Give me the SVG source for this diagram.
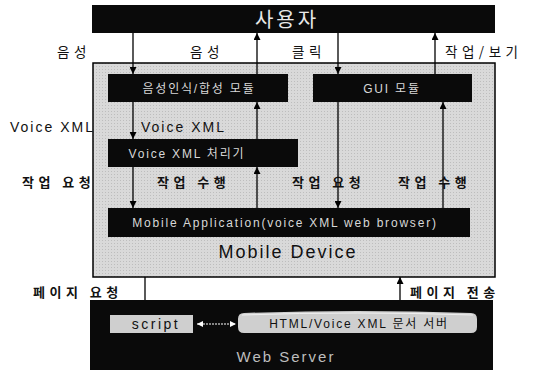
<svg xmlns="http://www.w3.org/2000/svg" width="533" height="370" viewBox="0 0 533 370">
<defs>
<marker id="ah" viewBox="0 0 10 10" refX="10" refY="5" markerWidth="7" markerHeight="7" orient="auto" markerUnits="userSpaceOnUse"><path d="M0,0 L10,5 L0,10 z" fill="#000"/></marker>
<marker id="ah2" viewBox="0 0 10 10" refX="10" refY="5" markerWidth="6" markerHeight="6" orient="auto-start-reverse" markerUnits="userSpaceOnUse"><path d="M0,0 L10,5 L0,10 z" fill="#fff"/></marker>
<pattern id="dots" width="3" height="3" patternUnits="userSpaceOnUse"><rect width="3" height="3" fill="#d9d9d9"/><rect width="1" height="1" fill="#bdbdbd"/></pattern>
</defs>
<style>
.blk{fill:#0a0a0a}
.lbl{font-family:"Noto Sans CJK KR","Liberation Sans",sans-serif;font-size:13px;font-weight:bold;fill:#111;letter-spacing:4.5px}
.top{font-weight:normal;font-size:13.5px}
.lat{font-family:"Liberation Sans","Noto Sans CJK KR",sans-serif;font-size:14px;fill:#111;letter-spacing:2px}
.in{font-family:"Liberation Sans","Noto Sans CJK KR",sans-serif;font-size:12px;fill:#d8d8d8;letter-spacing:1.8px}
.ln{stroke:#000;stroke-width:1.3;fill:none}
</style>
<rect width="533" height="370" fill="#fff"/>

<g id="user">
<rect class="blk" x="92" y="5" width="403" height="28"/>
<text x="287" y="27" text-anchor="middle" font-family="Noto Sans CJK KR, sans-serif" font-size="20" fill="#e8e8e8" letter-spacing="3">사용자</text>
</g>

<g id="mobile-device">
<rect x="93" y="63" width="402" height="214" fill="url(#dots)" stroke="#000" stroke-width="1.5"/>
<text x="288" y="258" text-anchor="middle" font-family="Liberation Sans, sans-serif" font-size="18" fill="#111" letter-spacing="2">Mobile Device</text>
</g>

<g id="voice-module">
<rect class="blk" x="108" y="74" width="180" height="28"/>
<text class="in" x="199" y="93" text-anchor="middle" letter-spacing="2.5">음성인식/합성 모듈</text>
</g>

<g id="gui-module">
<rect class="blk" x="313" y="74" width="159" height="28"/>
<text class="in" x="392" y="93" text-anchor="middle" letter-spacing="2.5">GUI 모듈</text>
</g>

<g id="vxml-processor">
<rect class="blk" x="108" y="139" width="190" height="28"/>
<text class="in" x="187" y="158" text-anchor="middle" letter-spacing="2">Voice XML 처리기</text>
</g>

<g id="mobile-app">
<rect class="blk" x="108" y="208" width="362" height="29"/>
<text class="in" x="285" y="227" text-anchor="middle">Mobile Application(voice XML web browser)</text>
</g>

<g id="web-server">
<rect class="blk" x="90" y="300" width="403" height="70"/>
<text x="286" y="362" text-anchor="middle" font-family="Liberation Sans, sans-serif" font-size="15" fill="#bdbdbd" letter-spacing="2">Web Server</text>
</g>

<g id="script">
<rect x="110" y="315" width="83" height="18" fill="#cfcfcf"/>
<text x="156" y="329" text-anchor="middle" font-family="Liberation Sans, sans-serif" font-size="14" fill="#111" letter-spacing="2.5">script</text>
</g>

<g id="html-server">
<path d="M244,313 Q357,309 471,313 Q477,313 477,319 L477,327 Q477,333 471,333 L244,333 Q238,333 238,327 L238,319 Q238,313 244,313 z" fill="#cfcfcf"/>
<path d="M242,315 Q357,311 473,315" stroke="#f0f0f0" stroke-width="1" fill="none"/>
<text x="359" y="328" text-anchor="middle" font-family="Liberation Sans, Noto Sans CJK KR, sans-serif" font-size="12" fill="#111" letter-spacing="1.8">HTML/Voice XML 문서 서버</text>
</g>

<g id="connectors">
<line class="ln" x1="133" y1="33" x2="133" y2="74" marker-end="url(#ah)"/>
<line class="ln" x1="257" y1="74" x2="257" y2="33" marker-end="url(#ah)"/>
<line class="ln" x1="338" y1="33" x2="338" y2="74" marker-end="url(#ah)"/>
<line class="ln" x1="435" y1="74" x2="435" y2="33" marker-end="url(#ah)"/>
<line class="ln" x1="133" y1="102" x2="133" y2="139" marker-end="url(#ah)"/>
<line class="ln" x1="257" y1="139" x2="257" y2="102" marker-end="url(#ah)"/>
<line class="ln" x1="133" y1="167" x2="133" y2="208" marker-end="url(#ah)"/>
<line class="ln" x1="257" y1="208" x2="257" y2="167" marker-end="url(#ah)"/>
<line class="ln" x1="338" y1="102" x2="338" y2="208" marker-end="url(#ah)"/>
<line class="ln" x1="443" y1="208" x2="443" y2="102" marker-end="url(#ah)"/>
<line class="ln" x1="145" y1="277" x2="145" y2="300"/>
<line class="ln" x1="400" y1="300" x2="400" y2="277" marker-end="url(#ah)"/>
<line x1="197" y1="324" x2="236" y2="324" stroke="#fff" stroke-width="1.2" stroke-dasharray="2,1" marker-start="url(#ah2)" marker-end="url(#ah2)"/>
</g>

<g id="labels">
<text class="lbl top" x="57" y="57">음성</text>
<text class="lbl top" x="190" y="57">음성</text>
<text class="lbl top" x="292" y="57">클릭</text>
<text class="lbl top" x="445" y="57" letter-spacing="3.5">작업/보기</text>
<text class="lat" x="10" y="132">Voice XML</text>
<text class="lat" x="141" y="132">Voice XML</text>
<text class="lbl" x="22" y="187">작업 요청</text>
<text class="lbl" x="157" y="187">작업 수행</text>
<text class="lbl" x="292" y="187">작업 요청</text>
<text class="lbl" x="398" y="187">작업 수행</text>
<text class="lbl" x="33" y="297" letter-spacing="5">페이지 요청</text>
<text class="lbl" x="410" y="297" letter-spacing="5">페이지 전송</text>
</g>
</svg>
